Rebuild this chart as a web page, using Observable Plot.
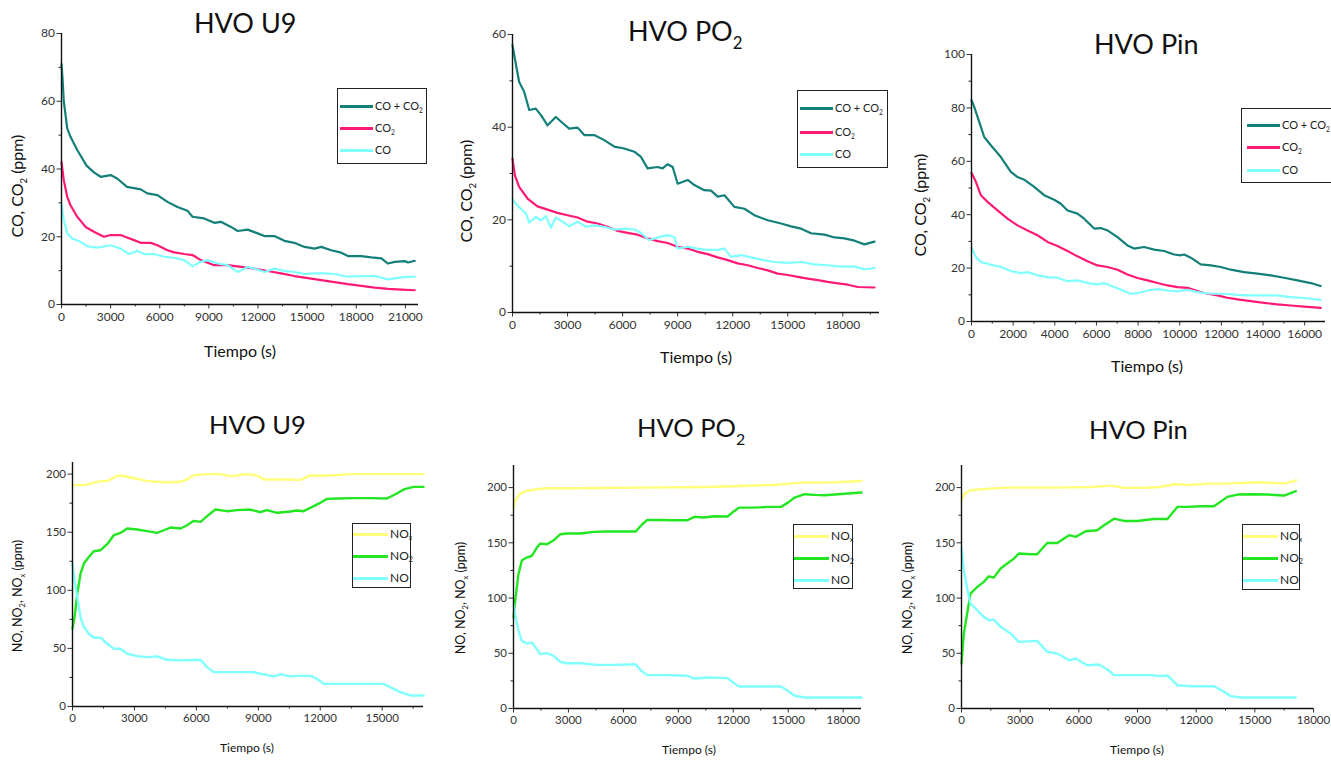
<!DOCTYPE html>
<html>
<head>
<meta charset="utf-8">
<script src="https://cdn.jsdelivr.net/npm/d3@7"></script>
<script src="https://cdn.jsdelivr.net/npm/@observablehq/plot@0.6"></script>
<style>
  html, body { margin: 0; padding: 0; background: #fff; }
  #root { position: relative; width: 1331px; height: 760px; overflow: hidden; background: #fff; font-family: Lato, "Open Sans", sans-serif; }
  .abs { position: absolute; white-space: nowrap; line-height: 1; }
  .panel { position: absolute; }
  .panel.top svg g, .panel.top svg text { font-size: 12px; }
  .panel.bot svg g, .panel.bot svg text { font-size: 11.5px; }
  .legend { position: absolute; border: 1.5px solid #222; box-sizing: border-box; background: #fff; }
</style>
</head>
<body>
<div id="root"></div>
<script>
// ---------------- DATA (time in s, concentration in ppm) ----------------
// HVO U9 — CO / CO2
const u9_COCO2 = [[0,71],[60,67],[140,60],[350,52],[550,49.5],[960,45.6],[1530,41],[1980,39],[2390,37.7],[3000,38.2],[3400,37.2],[4000,34.7],[4840,34],[5240,32.8],[5860,32.3],[6470,30.3],[7080,28.8],[7690,27.7],[8000,25.9],[8710,25.4],[9330,24.1],[9730,24.4],[10350,22.9],[10760,21.7],[11370,22.1],[11980,21],[12390,20.2],[13000,20.2],[13610,18.8],[14220,18.2],[14840,17],[15450,16.5],[15860,17],[16470,16],[17080,15.3],[17490,14.3],[18310,14.3],[18920,13.9],[19530,13.6],[19940,12.1],[20350,12.6],[20960,12.8],[21160,12.4],[21570,12.9]];
const u9_CO2 = [[0,42],[140,36.7],[350,31.8],[550,29.3],[960,25.9],[1470,22.9],[1980,21.5],[2590,20],[3000,20.5],[3610,20.5],[4000,19.8],[4430,19],[4840,18.2],[5450,18.2],[5860,17.5],[6470,16],[6880,15.4],[7490,14.9],[8000,14.6],[8510,13.1],[9330,11.6],[10140,11.6],[10960,11.1],[11780,10.6],[12590,9.9],[13410,9.2],[14220,8.4],[15040,7.8],[15860,7.2],[16670,6.6],[17490,6],[18310,5.5],[19120,5],[19940,4.6],[20760,4.4],[21570,4.2]];
const u9_CO = [[0,29.8],[140,24.9],[350,21],[650,19.5],[1160,18.5],[1570,17.2],[2180,16.8],[3000,17.5],[3610,16.5],[4120,14.9],[4630,15.8],[5040,14.9],[5650,14.9],[6270,14.1],[6880,13.8],[7490,13.1],[8000,11.3],[8510,12.6],[8920,13.1],[9530,12.1],[10140,11.6],[10760,9.6],[11370,11.1],[11980,10.3],[12390,9.6],[13000,10.6],[13610,9.9],[14220,9.6],[14840,9],[15450,9.2],[16060,9.2],[16670,9],[17490,8.2],[18310,8.4],[19120,8.4],[19940,7.4],[20760,8],[21570,8.2]];

// HVO PO2 — CO / CO2
const po2_COCO2 = [[0,57.7],[180,53.7],[360,49.8],[640,47.6],[910,43.7],[1270,44],[1550,42.6],[1910,40.4],[2360,42.2],[2730,40.9],[3090,39.7],[3550,39.9],[3910,38.3],[4450,38.3],[5000,37.2],[5550,35.8],[6090,35.4],[6640,34.7],[7000,33.6],[7360,31.1],[7910,31.4],[8180,31.1],[8450,32],[8730,31.4],[9000,27.8],[9550,28.6],[9910,27.5],[10450,26.4],[10820,26.3],[11180,25],[11550,25.3],[12090,22.8],[12640,22.4],[13180,21],[13910,19.9],[14640,19.2],[15180,18.6],[15730,18.1],[16270,17.1],[17000,16.8],[17550,16.2],[18090,16],[18640,15.5],[19180,14.7],[19730,15.3]];
const po2_CO2 = [[0,33.2],[130,29.6],[360,27.1],[820,24.6],[1360,22.9],[1910,22.2],[2450,21.5],[3000,21],[3550,20.5],[4090,19.6],[4640,19.2],[5180,18.5],[5730,17.6],[6270,17.2],[6820,16.8],[7360,16],[7910,15.4],[8450,15],[9000,14.2],[9550,13.8],[10090,13.1],[10640,12.6],[11180,11.9],[11730,11.3],[12270,10.6],[12820,10.2],[13360,9.6],[13910,9.1],[14450,8.4],[15000,8.1],[15550,7.7],[16090,7.3],[16640,7],[17180,6.6],[17730,6.3],[18270,6],[18820,5.5],[19730,5.4]];
const po2_CO = [[0,24.5],[180,23.5],[450,22.4],[730,21.4],[910,19.4],[1270,20.6],[1550,19.9],[1820,20.8],[2090,18.3],[2360,20.5],[2730,19.6],[3090,18.6],[3550,19.6],[4000,18.5],[4450,18.8],[5000,18.5],[5550,17.9],[6090,18.1],[6640,17.9],[7000,17.2],[7450,15.6],[7910,16.2],[8450,16.7],[8820,16.3],[9000,13.8],[9550,14.2],[10090,13.8],[10640,13.5],[11180,13.5],[11550,13.8],[11910,12],[12450,12.4],[13000,11.9],[13550,11.4],[14270,10.9],[15000,10.7],[15730,10.9],[16450,10.4],[17180,10.2],[17910,9.9],[18640,9.9],[19180,9.3],[19730,9.6]];

// HVO Pin — CO / CO2
const pin_COCO2 = [[0,82.9],[130,80.4],[370,74.8],[610,69.1],[930,66],[1410,61.6],[1890,56],[2210,54.1],[2530,53.1],[3010,50.4],[3490,47.3],[3970,45.6],[4290,44.1],[4610,41.6],[5090,40.4],[5410,38.5],[5890,34.8],[6210,35],[6530,34.1],[7010,31.6],[7490,28.5],[7810,27.3],[8290,27.9],[8770,26.9],[9250,26.4],[9730,25.1],[10050,24.8],[10210,25.1],[10530,23.9],[11010,21.4],[11490,21],[11970,20.4],[12450,19.4],[13090,18.5],[13730,17.9],[14370,17.3],[15010,16.4],[15650,15.4],[16290,14.4],[16770,13.3]];
const pin_CO2 = [[0,55.6],[210,52.3],[450,47.3],[770,44.8],[1250,41.6],[1730,38.5],[2210,36],[2690,34.1],[3170,32.3],[3650,29.8],[4130,28.3],[4610,26.4],[5090,24.4],[5570,22.6],[6050,21],[6530,20.4],[7010,19.4],[7490,17.6],[7970,16.3],[8450,15.4],[8930,14.4],[9410,13.5],[9890,12.9],[10370,12.6],[10850,11.4],[11330,10.4],[11810,9.8],[12290,8.9],[12770,8.3],[13410,7.6],[14050,7],[14690,6.4],[15330,6],[15970,5.6],[16770,5.1]];
const pin_CO = [[0,27.6],[210,24.1],[450,22.3],[930,21.3],[1410,20.4],[1890,18.9],[2370,18.1],[2690,18.5],[3170,17.3],[3650,16.6],[4130,16.4],[4610,15.1],[5090,15.4],[5570,14.4],[6050,13.9],[6370,14.4],[6850,12.9],[7330,11.4],[7650,10.4],[7970,10.6],[8450,11.6],[8930,12.1],[9410,11.6],[9890,11.3],[10370,11.9],[10850,11],[11490,10.4],[12130,10.4],[12770,10],[13410,9.8],[14050,9.8],[14690,9.8],[15330,9.1],[15970,8.8],[16770,8.1]];

// HVO U9 — NO / NO2 / NOx
const u9_NOx = [[0,190.5],[550,190.5],[1030,192.5],[1360,194],[1680,194],[2000,197],[2240,199],[2650,197.7],[3130,196],[3620,194],[4100,193.4],[4580,193],[5230,193.4],[5550,195.4],[5870,199],[6520,200],[7160,200],[7650,198.3],[7970,198.9],[8450,200],[8940,198.9],[9260,195.4],[9910,195.4],[10550,195.4],[11030,194.8],[11520,199],[12000,198.6],[12650,199],[13450,200],[17000,200]];
const u9_NO2 = [[0,67],[100,77],[230,97],[390,114.4],[550,123],[790,128.7],[1030,133.6],[1360,134.5],[1680,139.7],[2000,147.4],[2320,149.4],[2650,153.2],[3130,152.3],[3620,150.9],[4100,149.4],[4420,151.7],[4750,154],[5230,153.2],[5550,156],[5870,159.8],[6200,158.9],[6520,163.8],[6920,169.5],[7490,168.1],[7970,169],[8610,169.5],[9100,167.2],[9420,169],[9910,166.7],[10550,167.8],[10870,168.7],[11190,168.1],[11680,172.4],[12000,175.3],[12330,178.7],[12810,179],[13620,179.3],[14420,179.3],[15230,179],[15710,183.3],[16040,186.8],[16520,189],[17000,189]];
const u9_NO = [[0,123],[100,108.6],[230,94.3],[390,77],[550,68.4],[790,62.6],[1030,59.2],[1360,59.2],[1680,54],[2000,49.7],[2320,49.7],[2650,45.4],[3130,43.4],[3620,42.5],[4100,43.1],[4580,40.2],[5230,39.7],[6200,40.2],[6520,33.9],[6840,29.6],[7810,29.6],[8770,29.6],[9260,27.6],[9750,25.9],[10070,27.6],[10550,25.9],[10870,26.4],[11520,26.4],[11840,23.9],[12170,19.5],[13450,19.5],[15060,19.5],[15390,16.7],[15870,12.4],[16360,9.5],[17000,9.5]];

// HVO PO2 — NO / NO2 / NOx
const po2_NOx = [[0,182],[90,188],[365,194.6],[730,197],[1280,198.5],[1830,199.4],[3290,199.4],[6940,200],[10600,200.6],[12420,201.5],[14250,202.4],[15710,204.5],[16990,204.5],[17900,205.1],[19000,206]];
const po2_NO2 = [[0,82.4],[90,97.4],[270,121.6],[460,134.2],[730,136.7],[1000,138.2],[1280,145.7],[1460,149.3],[1830,148.7],[2190,152.3],[2560,157.8],[2920,158.4],[3650,158.4],[4380,159.9],[5110,160.2],[6030,160.2],[6670,160.2],[7030,166.8],[7310,170.7],[8040,170.7],[8770,170.4],[9500,170.4],[9870,173.5],[10410,172.9],[10960,174.1],[11690,173.8],[12060,178.9],[12330,181.9],[13150,181.9],[13880,182.5],[14610,182.5],[14980,186.4],[15350,191],[15890,194],[16440,193.4],[16990,193.1],[17720,194],[19000,195.5]];
const po2_NO = [[0,94.4],[90,85.4],[270,70.3],[460,61.2],[730,58.8],[1000,59.7],[1280,53.7],[1460,49.2],[1830,50.1],[2190,47.7],[2560,42.2],[2920,41],[3650,41],[4560,39.5],[5480,39.5],[6670,40.1],[6940,34.7],[7310,30.2],[8400,30.2],[9500,29.6],[9870,27.1],[10600,28.1],[11690,27.5],[12060,22.6],[12330,19.9],[13340,19.9],[14610,19.9],[14980,16],[15350,11.5],[15890,10],[19000,10]];

// HVO Pin — NO / NO2 / NOx
const pin_NOx = [[0,188.5],[120,194],[375,197],[715,198.2],[1480,199.1],[2340,200],[4900,200],[6600,200.6],[7620,201.8],[8310,199.7],[9330,199.7],[10190,200.6],[10870,203],[11720,202.4],[12570,203.6],[13430,203.6],[14280,204.2],[15140,204.8],[15990,204.2],[16500,203.6],[17100,206.6]];
const pin_NO2 = [[0,40.7],[120,67.9],[290,86],[460,104],[800,110],[1140,114.6],[1400,119.7],[1650,118.5],[2000,126.7],[2340,131.2],[2680,135.7],[2930,140.3],[3530,139.7],[3870,139.7],[4380,149.9],[4900,149.9],[5500,156.9],[5840,155.4],[6350,160.5],[6940,161.4],[7290,165.9],[7800,171.9],[8310,169.8],[8990,169.8],[9840,171.6],[10530,171.6],[11040,182.5],[11550,182.5],[12230,183.1],[12910,183.1],[13600,191.6],[14110,193.7],[14960,194],[15650,193.7],[16500,192.8],[17100,196.7]];
const pin_NO = [[0,144.8],[120,125.2],[290,108.6],[460,95],[800,89],[1140,83],[1400,79.9],[1650,80.5],[2000,73.9],[2510,67.9],[2930,60.3],[3870,61.2],[4380,51.3],[4900,49.8],[5500,43.7],[5840,45.2],[6430,39.2],[7020,39.8],[7460,35.3],[7800,30.2],[8650,30.2],[9670,30.2],[10190,29.3],[10530,29.9],[11040,21.1],[11720,20.2],[12910,20.2],[13430,15.1],[13770,11.2],[14280,10],[17100,10]];

// Series labels and colours
const coLabels = ["CO + CO<sub>2</sub>", "CO<sub>2</sub>", "CO"];
const coColors = ["#128079", "#ff1a75", "#80ffff"];
const noLabels = ["NO<sub>x</sub>", "NO<sub>2</sub>", "NO"];
const noColors = ["#ffff7a", "#22e622", "#80ffff"];

// Tick values
const ticksU9x = d3.range(0, 21001, 3000);
const ticks3000 = d3.range(0, 18001, 3000);
const ticksPinx = d3.range(0, 16001, 2000);

// ---------------- LAYOUT ----------------
const root = document.getElementById("root");
const FONT = "Lato, 'Open Sans', sans-serif";

function addDiv(html, css) {
  const d = document.createElement("div");
  d.className = "abs";
  d.innerHTML = html;
  Object.assign(d.style, css);
  root.appendChild(d);
  return d;
}
function textAt(html, x, base, size, anchor = "middle", color = "#111") {
  return addDiv(html, {
    left: x + "px", top: (base - 0.89 * size) + "px", fontSize: size + "px",
    color, transform: anchor === "middle" ? "translateX(-50%)" : "none"
  });
}
function vtext(html, cx, cy, size, color = "#111") {
  return addDiv(html, {
    left: cx + "px", top: cy + "px", fontSize: size + "px", color,
    transform: "translate(-50%,-50%) rotate(-90deg)"
  });
}
function legend(box, labels, colors, rows, opts) {
  const L = document.createElement("div");
  L.className = "legend";
  Object.assign(L.style, {left: box.x + "px", top: box.y + "px", width: box.w + "px", height: box.h + "px"});
  root.appendChild(L);
  labels.forEach((lab, i) => {
    const cy = rows[i] - box.y - 1.5;
    const ln = document.createElement("div");
    Object.assign(ln.style, {position: "absolute", left: opts.lx + "px", width: opts.lw + "px",
      top: (cy - opts.sw / 2) + "px", height: opts.sw + "px", background: colors[i]});
    L.appendChild(ln);
    const t = document.createElement("div");
    t.className = "abs";
    t.innerHTML = lab;
    Object.assign(t.style, {left: (opts.lx + opts.lw + 2) + "px", top: (cy - opts.fs * 0.55) + "px",
      fontSize: opts.fs + "px", color: "#222"});
    t.querySelectorAll("sub").forEach(s => {
      s.style.fontSize = "0.6em"; s.style.verticalAlign = "baseline";
      s.style.position = "relative"; s.style.top = "0.35em";
    });
    L.appendChild(t);
  });
}

function panel(cfg) {
  const div = document.createElement("div");
  div.className = "panel " + cfg.row;
  div.style.left = cfg.left + "px";
  div.style.top = cfg.top + "px";
  root.appendChild(div);
  const marks = [
    Plot.axisX({ticks: cfg.minorX, tickSize: 2.5, tickFormat: () => "", label: null, color: "#222"}),
    Plot.axisY({ticks: cfg.minorY, tickSize: 2.5, tickFormat: () => "", label: null, color: "#222"}),
    Plot.axisX({ticks: cfg.ticksX, tickSize: 4.5, tickPadding: 3, tickFormat: d3.format("d"), label: null, color: "#333"}),
    Plot.axisY({ticks: cfg.ticksY, tickSize: 4.5, tickPadding: 2, tickFormat: d3.format("d"), label: null, color: "#333"}),
    ...cfg.series.map((s, i) => Plot.line(s, {x: d => d[0], y: d => d[1], stroke: cfg.colors[i], strokeWidth: cfg.sw, strokeLinejoin: "round"})),
    Plot.ruleX([0], {stroke: "#111", strokeWidth: 1.4}),
    Plot.ruleY([0], {stroke: "#111", strokeWidth: 1.4})
  ];
  const svg = Plot.plot({
    width: cfg.width, height: cfg.height,
    marginLeft: cfg.m[3], marginRight: cfg.m[1], marginTop: cfg.m[0], marginBottom: cfg.m[2],
    x: {domain: cfg.xd}, y: {domain: cfg.yd},
    style: {fontFamily: FONT, background: "transparent", overflow: "visible"},
    marks
  });
  div.appendChild(svg);
}

// ---- Top row (CO, CO2) ----
panel({row: "top", left: 0, top: 0, width: 440, height: 380, m: [33, 22, 76, 61], xd: [0, 21800], yd: [0, 80],
  ticksX: ticksU9x, minorX: d3.range(1500, 21800, 3000), ticksY: [0, 20, 40, 60, 80], minorY: [10, 30, 50, 70],
  series: [u9_COCO2, u9_CO2, u9_CO], colors: coColors, sw: 2.2});
panel({row: "top", left: 440, top: 0, width: 450, height: 380, m: [34, 11, 68, 72], xd: [0, 20000], yd: [0, 60],
  ticksX: ticks3000, minorX: d3.range(1500, 20000, 3000), ticksY: [0, 20, 40, 60], minorY: [10, 30, 50],
  series: [po2_COCO2, po2_CO2, po2_CO], colors: coColors, sw: 2.2});
panel({row: "top", left: 890, top: 0, width: 441, height: 390, m: [54, 6, 69, 81], xd: [0, 17000], yd: [0, 100],
  ticksX: ticksPinx, minorX: d3.range(1000, 17000, 2000), ticksY: [0, 20, 40, 60, 80, 100], minorY: [10, 30, 50, 70, 90],
  series: [pin_COCO2, pin_CO2, pin_CO], colors: coColors, sw: 2.2});

// ---- Bottom row (NO, NO2, NOx) ----
panel({row: "bot", left: 0, top: 400, width: 440, height: 360, m: [62, 17, 54, 72], xd: [0, 17000], yd: [0, 210],
  ticksX: d3.range(0, 15001, 3000), minorX: d3.range(1500, 17000, 3000), ticksY: [0, 50, 100, 150, 200], minorY: [25, 75, 125, 175],
  series: [u9_NOx, u9_NO2, u9_NO], colors: noColors, sw: 2.4});
panel({row: "bot", left: 440, top: 400, width: 450, height: 360, m: [65, 29, 52, 73], xd: [0, 19000], yd: [0, 220],
  ticksX: ticks3000, minorX: d3.range(1500, 19000, 3000), ticksY: [0, 50, 100, 150, 200], minorY: [25, 75, 125, 175],
  series: [po2_NOx, po2_NO2, po2_NO], colors: noColors, sw: 2.4});
panel({row: "bot", left: 890, top: 400, width: 441, height: 360, m: [65, 18, 52, 71], xd: [0, 18000], yd: [0, 220],
  ticksX: ticks3000, minorX: d3.range(1500, 18000, 3000), ticksY: [0, 50, 100, 150, 200], minorY: [25, 75, 125, 175],
  series: [pin_NOx, pin_NO2, pin_NO], colors: noColors, sw: 2.4});

// ---- Titles ----
const subBig = s => `<span style="font-size:0.62em;position:relative;top:0.5em">${s}</span>`;
textAt("HVO U9", 194, 33, 27, "start");
textAt("HVO PO" + subBig("2"), 628, 41, 27, "start");
textAt("HVO Pin", 1094, 54, 27, "start");
textAt("HVO U9", 209, 435, 25.5, "start");
textAt("HVO PO" + subBig("2"), 637, 438, 25.5, "start");
textAt("HVO Pin", 1089, 440, 25.5, "start");

// ---- Axis titles ----
const sub = s => `<span style="font-size:0.6em;position:relative;top:0.4em">${s}</span>`;
textAt("Tiempo (s)", 240, 357, 16);
textAt("Tiempo (s)", 696, 363, 16);
textAt("Tiempo (s)", 1147, 372, 16);
textAt("Tiempo (s)", 247, 753, 12);
textAt("Tiempo (s)", 689, 755, 12);
textAt("Tiempo (s)", 1137, 755, 12);
vtext("CO, CO" + sub("2") + " (ppm)", 17, 186, 16);
vtext("CO, CO" + sub("2") + " (ppm)", 466, 191, 16);
vtext("CO, CO" + sub("2") + " (ppm)", 920, 205, 16);
vtext("NO, NO" + sub("2") + ", NO" + sub("x") + " (ppm)", 18, 596, 12.5);
vtext("NO, NO" + sub("2") + ", NO" + sub("x") + " (ppm)", 461, 598, 12.5);
vtext("NO, NO" + sub("2") + ", NO" + sub("x") + " (ppm)", 908, 598, 12.5);

// ---- Legends ----
const topOpts = {lx: 2, lw: 33, sw: 2.5, fs: 11};
const botOpts = {lx: 0, lw: 35, sw: 2.5, fs: 12};
legend({x: 337, y: 88, w: 90, h: 76}, coLabels, coColors, [107, 129, 151], topOpts);
legend({x: 797, y: 90, w: 91, h: 78}, coLabels, coColors, [109, 133, 155], topOpts);
legend({x: 1241, y: 108, w: 100, h: 75}, coLabels, coColors, [126, 148, 171], {lx: 5, lw: 33, sw: 2.5, fs: 11});
legend({x: 352, y: 523, w: 59, h: 65}, noLabels, noColors, [535, 557, 579], botOpts);
legend({x: 793, y: 524, w: 60, h: 65}, noLabels, noColors, [537, 559, 581], botOpts);
legend({x: 1242, y: 524, w: 58, h: 66}, noLabels, noColors, [537, 559, 581], botOpts);
</script>
</body>
</html>
